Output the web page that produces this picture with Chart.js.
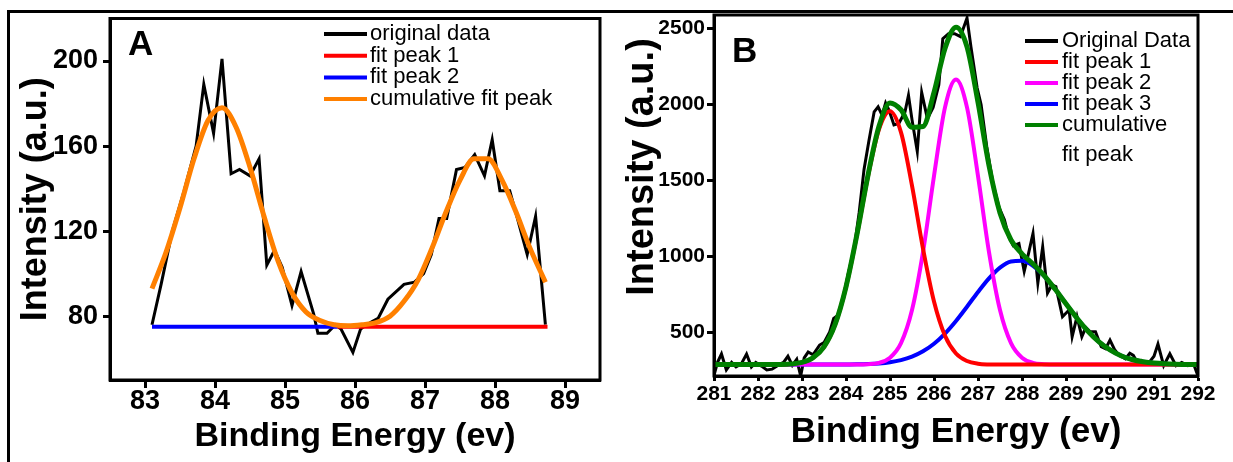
<!DOCTYPE html>
<html>
<head>
<meta charset="utf-8">
<script src="https://cdn.jsdelivr.net/npm/chart.js@4.4.1/dist/chart.umd.min.js"></script>
<style>
  html, body { margin: 0; padding: 0; background: #fff; }
  body { width: 1233px; height: 462px; position: relative; overflow: hidden; }
  /* outer frame of the figure (top + left rule) */
  #frame { position: absolute; left: 7px; top: 10px; width: 1240px; height: 470px;
           border-left: 3px solid #000; border-top: 3px solid #000; }
  canvas { position: absolute; top: 0; }
  #chartA { left: 0; }
  #chartB { left: 610px; }
</style>
</head>
<body>
<div id="frame"></div>
<canvas id="chartA" width="615" height="462"></canvas>
<canvas id="chartB" width="623" height="462"></canvas>
<script>
/* ---------- panel A ---------- */
const energyA = [83.10, 83.23, 83.39, 83.56, 83.73, 83.84, 83.98, 84.10, 84.23, 84.35,
                 84.50, 84.63, 84.74, 84.85, 84.96, 85.10, 85.23, 85.41, 85.47, 85.60,
                 85.72, 85.80, 85.97, 86.08, 86.22, 86.33, 86.47, 86.70, 86.85, 86.98,
                 87.09, 87.20, 87.31, 87.45, 87.57, 87.71, 87.85, 87.96, 88.07, 88.21,
                 88.32, 88.46, 88.58, 88.72];
const intensityA = [76, 95, 120, 139, 160, 189, 166, 201, 147, 149,
                    146, 154, 104, 111, 103, 85, 101, 81, 72, 72,
                    76, 74, 63, 74, 77, 79, 88, 95, 96, 100,
                    109, 126, 126, 149, 150, 156, 146, 163, 139, 139,
                    126, 109, 127, 76];
const fitEnergyA = [83.1, 83.3, 83.5, 83.7, 83.9, 84.1, 84.3, 84.5, 84.7, 84.9,
                    85.1, 85.3, 85.5, 85.7, 85.9, 86.1, 86.3, 86.5, 86.7, 86.9,
                    87.1, 87.3, 87.5, 87.7, 87.9, 88.1, 88.3, 88.5, 88.72];
const cumulativeA = [93, 110, 131, 154, 172, 178, 169, 150, 127, 106,
                     91, 82, 78, 76, 75.5, 76, 77, 80, 87, 97,
                     112, 129, 144, 154, 154, 144, 129, 112, 96];
const peak1EnergyA = [85.75, 88.75];
const peak1A = [75, 75];
const peak2EnergyA = [83.10, 85.75];
const peak2A = [75, 75];
const ticksXA = [83, 84, 85, 86, 87, 88, 89];
const ticksYA = [80, 120, 160, 200];

/* ---------- panel B ---------- */
const energyB = [281.00, 281.08, 281.17, 281.28, 281.40, 281.50, 281.62, 281.74, 281.85, 281.95,
                 282.08, 282.20, 282.32, 282.45, 282.58, 282.68, 282.78, 282.88, 282.97, 283.05,
                 283.14, 283.25, 283.40, 283.50, 283.63, 283.72, 283.82, 283.92, 284.05, 284.18,
                 284.30, 284.41, 284.52, 284.64, 284.73, 284.82, 284.90, 284.98,
                 285.09, 285.20, 285.34, 285.42, 285.50, 285.62, 285.72, 285.85, 285.98, 286.11,
                 286.20, 286.33, 286.47, 286.60, 286.75, 286.84, 286.98,
                 287.07, 287.20, 287.34, 287.48, 287.60, 287.70, 287.80, 287.93, 288.05, 288.15,
                 288.25, 288.36, 288.47, 288.58, 288.68, 288.77, 288.92,
                 289.07, 289.14, 289.25, 289.36, 289.45, 289.55, 289.67, 289.80, 289.90, 290.00,
                 290.11, 290.21, 290.35, 290.45, 290.53, 290.62, 290.71, 290.80, 290.89,
                 291.00, 291.09, 291.22, 291.36, 291.50, 291.63, 291.77, 291.90, 292.00];
const intensityB = [215, 300, 355, 250, 300, 270, 290, 355, 270, 300,
                    275, 250, 255, 280, 300, 340, 280, 320, 210, 330,
                    368, 350, 414, 430, 500, 590, 611, 700, 883, 1040,
                    1290, 1572, 1760, 1952, 1985, 1930, 2010, 1960,
                    1865, 1875, 1950, 2060, 1900, 1690, 2080, 1906, 1980, 2130,
                    2434, 2467, 2467, 2447, 2570, 2380, 2110,
                    2000, 1720, 1480, 1320, 1240, 1127, 1070, 1083, 900, 1020,
                    1150, 823, 1061, 757, 810, 799, 601,
                    645, 469, 601, 469, 530, 502, 502, 403, 390, 447,
                    381, 346, 323, 360, 346, 300, 312, 290, 300,
                    340, 420, 278, 357, 278, 300, 278, 290, 210];
const fitEnergyB = [281, 282, 282.5, 283, 283.25, 283.5, 283.75, 284, 284.25, 284.5,
                    284.75, 285, 285.25, 285.5, 285.75, 286, 286.25, 286.5, 286.75, 287,
                    287.25, 287.5, 287.75, 288, 288.25, 288.5, 288.75, 289, 289.25, 289.5,
                    289.75, 290, 290.25, 290.5, 290.75, 291, 291.5, 292];
const peak1B = [285, 285, 286, 300, 330, 402, 548, 797, 1143, 1527,
                1836, 1955, 1816, 1465, 1050, 701, 475, 358, 309, 291,
                286, 285, 285, 285, 285, 285, 285, 285, 285, 285,
                285, 285, 285, 285, 285, 285, 285, 285];
const peak2B = [285, 285, 285, 285, 285, 285, 285, 285, 285, 288,
                297, 331, 427, 645, 1027, 1529, 1981, 2165, 1981, 1529,
                1027, 645, 427, 331, 297, 288, 285, 285, 285, 285,
                285, 285, 285, 285, 285, 285, 285, 285];
const peak3B = [285, 285, 285, 285, 285, 285, 285, 286, 287, 289,
                293, 301, 315, 338, 373, 423, 490, 573, 667, 764,
                854, 925, 965, 969, 936, 870, 783, 686, 591, 505,
                435, 382, 344, 319, 304, 295, 287, 285];
const cumulativeB = [285, 285, 286, 300, 330, 402, 548, 798, 1145, 1534,
                     1856, 2010, 1965, 1850, 1855, 2080, 2370, 2510, 2380, 2014,
                     1597, 1285, 1107, 1015, 948, 873, 783, 686, 591, 505,
                     435, 382, 344, 319, 304, 295, 287, 285];
const ticksXB = [281, 282, 283, 284, 285, 286, 287, 288, 289, 290, 291, 292];
const ticksYB = [500, 1000, 1500, 2000, 2500];

const SANS = "'Liberation Sans', Arial, sans-serif";
const NARROW = "'Liberation Sans Narrow', 'Liberation Sans', Arial, sans-serif";

const pts = (xs, ys) => xs.map((x, i) => ({ x: x, y: ys[i] }));

const line = (label, xs, ys, color, width, order, smooth) => ({
    label: label,
    data: pts(xs, ys),
    borderColor: color,
    backgroundColor: color,
    borderWidth: width,
    pointRadius: 0,
    order: order,
    tension: 0,
    cubicInterpolationMode: smooth ? 'monotone' : 'default'
});

/* frame round the plot area + panel letter (+ optional free y title) */
const plotBox = {
    id: 'plotBox',
    afterDraw(chart, args, o) {
        const { ctx, chartArea: a } = chart;
        ctx.save();
        ctx.strokeStyle = '#000';
        ctx.lineWidth = 3;
        ctx.strokeRect(a.left, a.top, a.right - a.left, a.bottom - a.top);
        ctx.fillStyle = '#000';
        ctx.font = 'bold ' + o.size + 'px ' + SANS;
        ctx.textBaseline = 'alphabetic';
        ctx.fillText(o.tag, o.x, o.y);
        if (o.yTitle) {
            const t = o.yTitle;
            ctx.translate(t.x, t.y);
            ctx.rotate(-Math.PI / 2);
            ctx.font = 'bold ' + t.size + 'px ' + SANS;
            ctx.textAlign = 'center';
            ctx.textBaseline = 'middle';
            ctx.fillText(t.text, 0, 0);
        }
        ctx.restore();
    }
};

/* legend with short line samples, drawn inside the plot */
const lineLegend = {
    id: 'lineLegend',
    afterDatasetsDraw(chart, args, o) {
        const ctx = chart.ctx;
        ctx.save();
        ctx.font = o.size + 'px ' + SANS;
        ctx.textBaseline = 'middle';
        ctx.textAlign = 'left';
        let y = o.y;
        chart.data.datasets.forEach(ds => {
            ctx.strokeStyle = ds.borderColor;
            ctx.lineWidth = 4;
            ctx.beginPath();
            ctx.moveTo(o.x, y);
            ctx.lineTo(o.x + o.len, y);
            ctx.stroke();
            ctx.fillStyle = '#000';
            const rows = [].concat(ds.label);
            rows.forEach((t, i) => ctx.fillText(t, o.x + o.len + o.gap, y + i * o.extra));
            y += o.step + (rows.length - 1) * o.extra;
        });
        ctx.restore();
    }
};

function axes(cfg) {
    return {
        x: {
            type: 'linear', min: cfg.xMin, max: cfg.xMax,
            afterBuildTicks: s => { s.ticks = cfg.xTicks.map(v => ({ value: v })); },
            afterFit: s => { s.height = cfg.xHeight; },
            grid: { drawOnChartArea: false, tickLength: cfg.xTickLen, tickWidth: 3, tickColor: '#000' },
            border: { color: '#000', width: 3 },
            ticks: {
                color: '#000', padding: cfg.xPad, autoSkip: false, maxRotation: 0,
                font: { family: NARROW, size: cfg.xFont, weight: 'bold', lineHeight: 1 },
                callback: v => String(v)
            },
            title: {
                display: true, text: 'Binding Energy (ev)', color: '#000',
                font: { family: SANS, size: cfg.xTitleFont, weight: 'bold' },
                padding: { top: 0, bottom: cfg.xTitlePad }
            }
        },
        y: {
            type: 'linear', min: cfg.yMin, max: cfg.yMax,
            afterBuildTicks: s => { s.ticks = cfg.yTicks.map(v => ({ value: v })); },
            afterFit: s => { s.width = cfg.yWidth; },
            grid: { drawOnChartArea: false, tickLength: 7, tickWidth: 3, tickColor: '#000' },
            border: { color: '#000', width: 3 },
            ticks: {
                color: '#000', padding: cfg.yPad,
                font: { family: cfg.yFamily, size: cfg.yFont, weight: 'bold', lineHeight: 1 },
                callback: v => String(v)
            },
            title: {
                display: cfg.yTitleOn, text: 'Intensity (a.u.)', color: '#000',
                font: { family: SANS, size: cfg.yTitleFont, weight: 'bold' },
                padding: { top: cfg.yTitlePad, bottom: 0 }
            }
        }
    };
}

new Chart(document.getElementById('chartA'), {
    type: 'line',
    data: {
        datasets: [
            line('original data', energyA, intensityA, '#000000', 3, 4, false),
            line('fit peak 1', peak1EnergyA, peak1A, '#ff0000', 4, 2, false),
            line('fit peak 2', peak2EnergyA, peak2A, '#0000ff', 4, 3, false),
            line('cumulative fit peak', fitEnergyA, cumulativeA, '#ff8000', 5, 1, true)
        ]
    },
    options: {
        responsive: false,
        animation: false,
        events: [],
        layout: { padding: { left: 0, top: 17, right: 15, bottom: 0 } },
        plugins: {
            legend: { display: false },
            tooltip: { enabled: false },
            plotBox: { tag: 'A', x: 128, y: 55, size: 35 },
            lineLegend: { x: 324, y: 34, len: 43, gap: 3, step: 21.7, extra: 29, size: 22 }
        },
        scales: axes({
            xMin: 82.5, xMax: 89.5, xTicks: ticksXA, xHeight: 82, xTickLen: 8, xPad: 0, xFont: 27,
            yMin: 50, yMax: 220, yTicks: ticksYA, yWidth: 110, yPad: 5, yFont: 27, yFamily: NARROW,
            xTitleFont: 34, yTitleFont: 36, xTitlePad: 5, yTitlePad: 14, yTitleOn: true
        })
    },
    plugins: [plotBox, lineLegend]
});

new Chart(document.getElementById('chartB'), {
    type: 'line',
    data: {
        datasets: [
            line('Original Data', energyB, intensityB, '#000000', 3, 5, false),
            line('fit peak 1', fitEnergyB, peak1B, '#ff0000', 4, 2, true),
            line('fit peak 2', fitEnergyB, peak2B, '#ff00ff', 4, 3, true),
            line('fit peak 3', fitEnergyB, peak3B, '#0000ff', 4, 4, true),
            line(['cumulative', 'fit peak'], fitEnergyB, cumulativeB, '#008000', 5, 1, true)
        ]
    },
    options: {
        responsive: false,
        animation: false,
        events: [],
        layout: { padding: { left: 0, top: 15, right: 35, bottom: 0 } },
        plugins: {
            legend: { display: false },
            tooltip: { enabled: false },
            plotBox: { tag: 'B', x: 122, y: 62, size: 35,
                       yTitle: { text: 'Intensity (a.u.)', x: 33, y: 167, size: 38 } },
            lineLegend: { x: 415, y: 41, len: 33, gap: 4, step: 21, extra: 30, size: 22 }
        },
        scales: axes({
            xMin: 281, xMax: 292, xTicks: ticksXB, xHeight: 86, xTickLen: 5, xPad: 3, xFont: 21,
            yMin: 210, yMax: 2590, yTicks: ticksYB, yWidth: 104, yPad: 2, yFont: 21, yFamily: SANS,
            xTitleFont: 35, yTitleFont: 38, xTitlePad: 9, yTitlePad: 11, yTitleOn: false
        })
    },
    plugins: [plotBox, lineLegend]
});
</script>
</body>
</html>
